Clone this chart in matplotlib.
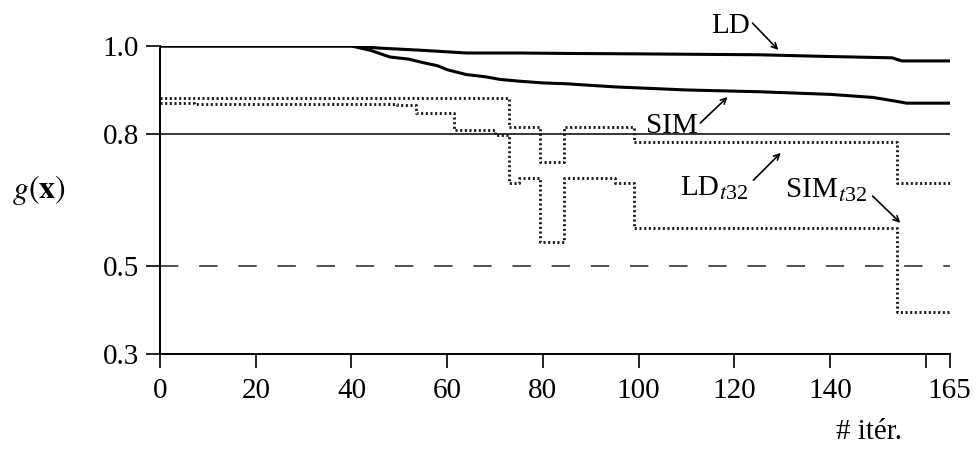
import numpy as np
import matplotlib
matplotlib.use('Agg')
import matplotlib.pyplot as plt
from matplotlib.transforms import offset_copy

plt.rcParams['font.family'] = ['Liberation Serif', 'DejaVu Serif']
plt.rcParams['mathtext.fontset'] = 'stix'

# data
ld_x = [0, 40, 46, 55, 64, 75, 85, 100, 125, 140, 153, 155, 165]
ld_y = [1.0, 1.0, 0.995, 0.99, 0.984, 0.984, 0.983, 0.982, 0.98, 0.976, 0.973, 0.966, 0.966]

sim_x = [0, 40, 44, 48, 52, 55, 58, 60, 64, 68, 71, 75, 80, 85, 95, 110, 125, 140, 149, 154, 156, 165]
sim_y = [1.0, 1.0, 0.99, 0.975, 0.97, 0.962, 0.955, 0.946, 0.935, 0.93, 0.924, 0.92, 0.916,
         0.914, 0.907, 0.9, 0.896, 0.89, 0.883, 0.874, 0.870, 0.870]

ldt_x = [0, 73, 79.5, 84.5, 99, 154, 165]
ldt_y = [0.882, 0.816, 0.736, 0.816, 0.782, 0.689, 0.689]

simt_x = [0, 7, 49.5, 53.5, 61.5, 70, 73, 75, 79.5, 84.5, 95, 99, 154, 165]
simt_y = [0.870, 0.868, 0.866, 0.847, 0.809, 0.798, 0.689, 0.70, 0.555, 0.70, 0.689, 0.586, 0.395, 0.395]

xticks = [0, 20, 40, 60, 80, 100, 120, 140, 160, 165]
xtick_labels = ['0', '20', '40', '60', '80', '100', '120', '140', '', '165']
yticks = [0.3, 0.5, 0.8, 1.0]
ytick_labels = ['0.3', '0.5', '0.8', '1.0']

fig = plt.figure(figsize=(9.76, 4.55), dpi=100)
ax = fig.add_axes([0.164, 0.222, 0.809, 0.677])

ax.axhline(0.8, color='black', lw=1.1)
ax.axhline(0.5, color='#333333', lw=1.2, dashes=(11, 12.5))

ax.plot(ld_x, ld_y, color='black', lw=2.2)
ax.plot(sim_x, sim_y, color='black', lw=2.2)
ax.plot(ldt_x, ldt_y, color='#1a1a1a', lw=2.1, drawstyle='steps-post', dashes=(0.7, 0.9))
ax.plot(simt_x, simt_y, color='#1a1a1a', lw=2.1, drawstyle='steps-post', dashes=(0.7, 0.9))

ax.set_xlim(0, 165)
ax.set_ylim(0.3, 1.0)
ax.set_xticks(xticks)
ax.set_xticklabels(xtick_labels)
ax.set_yticks(yticks)
ax.set_yticklabels(ytick_labels)
ax.tick_params(axis='both', labelsize=21, length=10, width=1.2, direction='out')
ax.tick_params(axis='y', pad=5)
ax.tick_params(axis='x', pad=7)
for s in ['top', 'right']:
    ax.spines[s].set_visible(False)
for s in ['left', 'bottom']:
    ax.spines[s].set_linewidth(1.4)

# labels with arrows
arr = dict(arrowstyle='->', lw=1.2, color='black', shrinkA=0, shrinkB=0)
sub_tr = offset_copy(ax.transData, fig=fig, x=0, y=-4, units='dots')

ax.text(119.2, 1.0295, 'LD', fontsize=21, ha='center', va='baseline', clip_on=False)
ax.annotate('', xy=(129.2, 0.991), xytext=(123.8, 1.052), arrowprops=arr, annotation_clip=False)

ax.text(106.9, 0.802, 'SIM', fontsize=21, ha='center', va='baseline')
ax.annotate('', xy=(118.6, 0.884), xytext=(112.9, 0.825), arrowprops=arr)

ax.text(116.7, 0.661, 'LD', fontsize=21, ha='right', va='baseline')
ax.text(116.7, 0.661, '$t$32', fontsize=16, ha='left', va='baseline', transform=sub_tr)
ax.annotate('', xy=(129.7, 0.757), xytext=(124.0, 0.695), arrowprops=arr)

ax.text(141.6, 0.657, 'SIM', fontsize=21, ha='right', va='baseline')
ax.text(141.6, 0.657, '$t$32', fontsize=16, ha='left', va='baseline', transform=sub_tr)
ax.annotate('', xy=(154.7, 0.598), xytext=(148.9, 0.659), arrowprops=arr)

fig.text(0.040, 0.582, r'$g(\mathbf{x})$', fontsize=23, ha='center', va='center')
fig.text(0.890, 0.051, '# itér.', fontsize=21, ha='center', va='center')

fig.savefig('out.png', dpi=100)
